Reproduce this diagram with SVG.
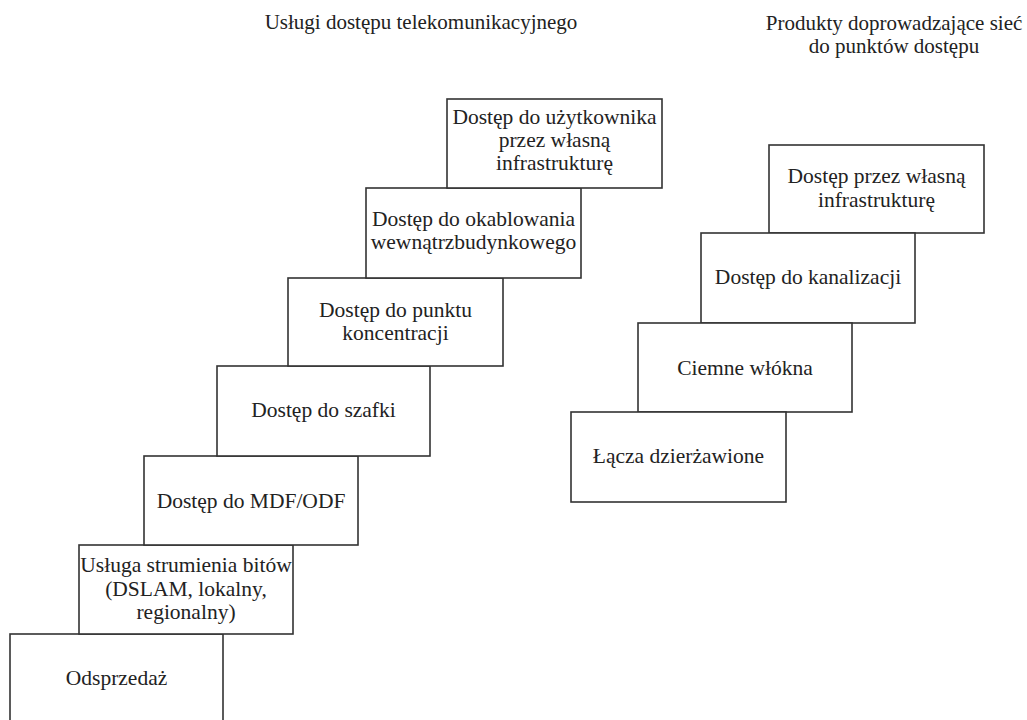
<svg xmlns="http://www.w3.org/2000/svg" width="1027" height="720" viewBox="0 0 1027 720">
<style>
.b{fill:#fff;stroke:#333;stroke-width:1.6}
.t{font-family:'Liberation Serif','DejaVu Serif',serif;font-size:21.5px;fill:#222;text-anchor:middle}
.h{font-family:'Liberation Serif','DejaVu Serif',serif;font-size:21px;fill:#222;text-anchor:middle}
</style>
<rect width="1027" height="720" fill="#fff"/>
<g id="titles">
<text class="h" x="421" y="29">Usługi dostępu telekomunikacyjnego</text>
<text class="h" x="894" y="30">Produkty doprowadzające sieć</text>
<text class="h" x="894" y="53">do punktów dostępu</text>
</g>
<g id="connectors"></g>
<g id="n_odsprzedaz"><rect class="b" x="10" y="634" width="213" height="110"/><text class="t" x="116.5" y="685">Odsprzedaż</text></g>
<g id="n_bitstream"><rect class="b" x="79" y="545" width="214" height="89"/><text class="t" x="186" y="572">Usługa strumienia bitów</text><text class="t" x="186" y="595.5">(DSLAM, lokalny,</text><text class="t" x="186" y="619">regionalny)</text></g>
<g id="n_mdf"><rect class="b" x="144" y="456" width="214" height="89"/><text class="t" x="251" y="508">Dostęp do MDF/ODF</text></g>
<g id="n_szafka"><rect class="b" x="217" y="366" width="213" height="90"/><text class="t" x="323.5" y="417">Dostęp do szafki</text></g>
<g id="n_punkt"><rect class="b" x="288" y="278" width="215" height="88"/><text class="t" x="395.5" y="317">Dostęp do punktu</text><text class="t" x="395.5" y="340">koncentracji</text></g>
<g id="n_okablowanie"><rect class="b" x="366" y="188" width="215" height="90"/><text class="t" x="473.5" y="226">Dostęp do okablowania</text><text class="t" x="473.5" y="248.5">wewnątrzbudynkowego</text></g>
<g id="n_uzytkownik"><rect class="b" x="447" y="99" width="215" height="89"/><text class="t" x="554.5" y="124">Dostęp do użytkownika</text><text class="t" x="554.5" y="147">przez własną</text><text class="t" x="554.5" y="170">infrastrukturę</text></g>
<g id="n_wlasna"><rect class="b" x="769" y="145" width="215" height="88"/><text class="t" x="876.5" y="183">Dostęp przez własną</text><text class="t" x="876.5" y="207">infrastrukturę</text></g>
<g id="n_kanalizacja"><rect class="b" x="701" y="233" width="214" height="90"/><text class="t" x="808" y="284">Dostęp do kanalizacji</text></g>
<g id="n_wlokna"><rect class="b" x="638" y="323" width="214" height="89"/><text class="t" x="745" y="375">Ciemne włókna</text></g>
<g id="n_lacza"><rect class="b" x="571" y="412" width="215" height="90"/><text class="t" x="678.5" y="463">Łącza dzierżawione</text></g>
</svg>
